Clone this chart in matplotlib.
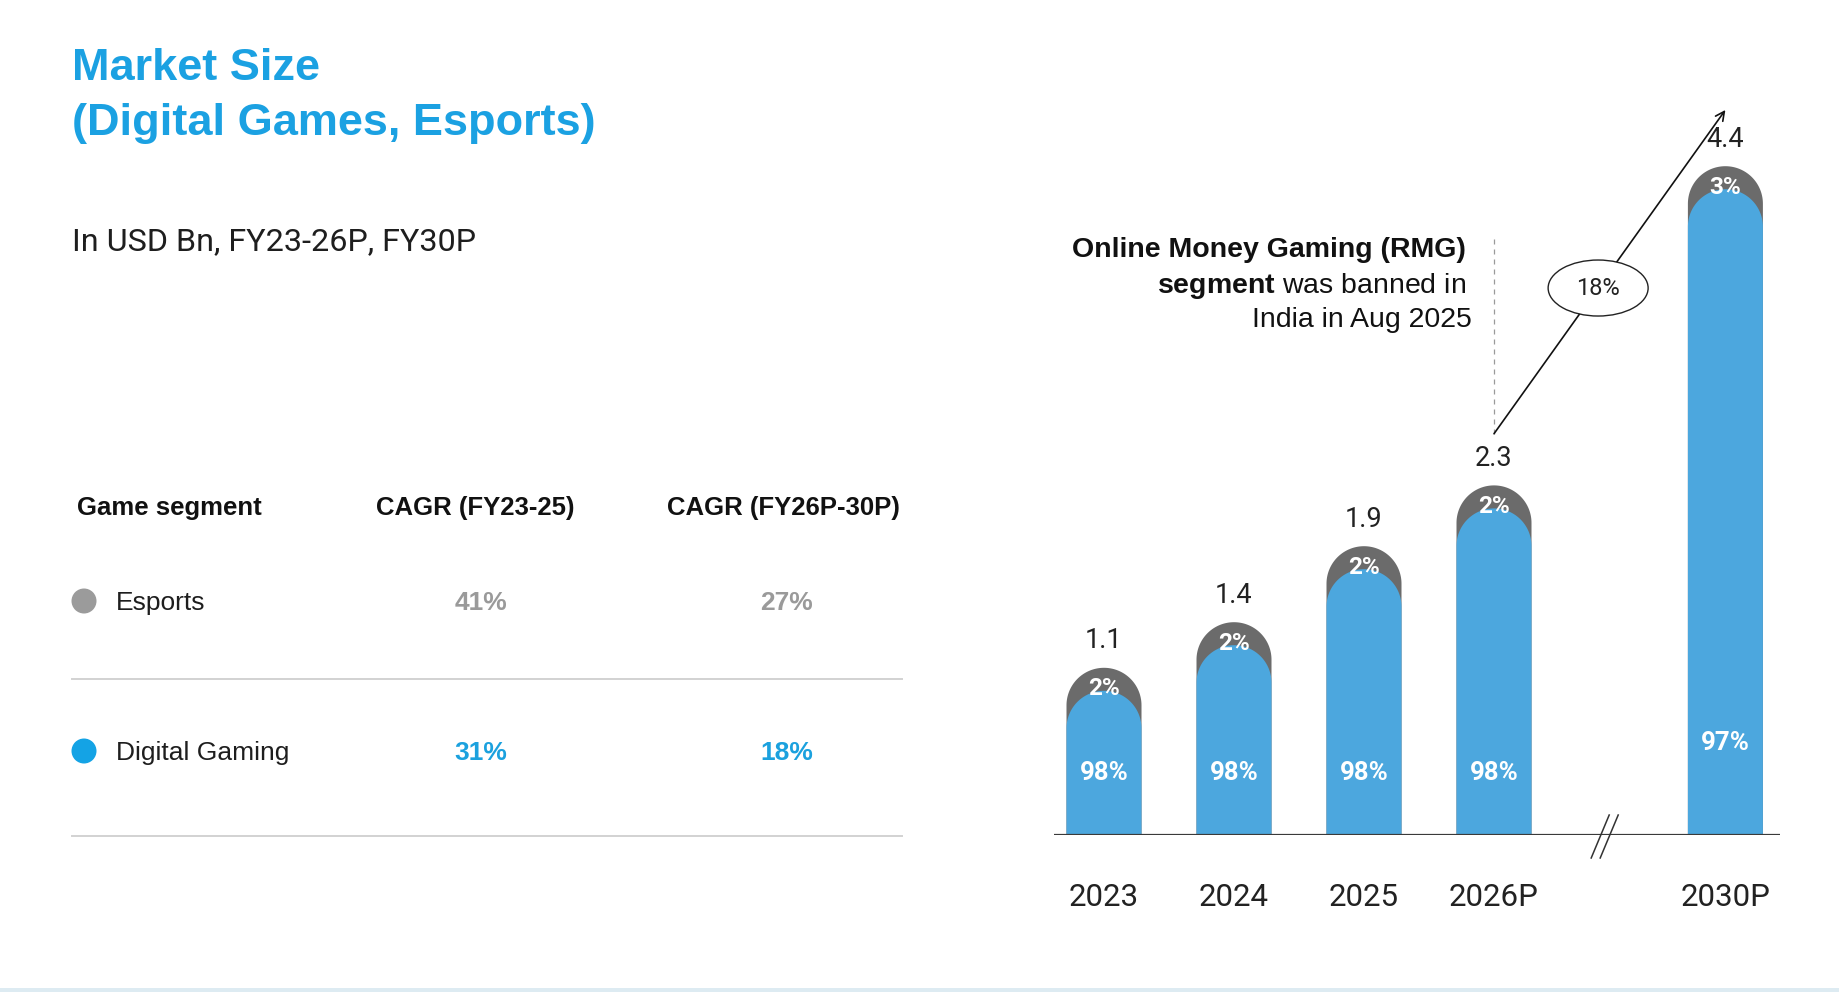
import numpy as np
import matplotlib.pyplot as plt
from matplotlib.path import Path
from matplotlib.patches import PathPatch, Ellipse, Circle

plt.rcParams['font.family'] = ['Roboto', 'DejaVu Sans']
plt.rcParams['mathtext.fontset'] = 'custom'
plt.rcParams['mathtext.rm'] = 'Liberation Sans'
plt.rcParams['mathtext.bf'] = 'Liberation Sans:bold'

# ---- data ----
years = ['2023', '2024', '2025', '2026P', '2030P']
market_size = [1.1, 1.4, 1.9, 2.3, 4.4]          # USD Bn
esports_share = ['2%', '2%', '2%', '2%', '3%']
digital_share = ['98%', '98%', '98%', '98%', '97%']
cagr_26_30_label = '18%'

segments = ['Esports', 'Digital Gaming']
cagr_fy23_25 = ['41%', '31%']
cagr_fy26_30 = ['27%', '18%']

# ---- style ----
BLUE = '#4CA7DE'
GREY_CAP = '#6B6B6B'
TITLE_BLUE = '#1BA1E2'
seg_dot = ['#9B9B9B', '#14A3E5']
seg_val = ['#9A9A9A', '#1BA1DE']
TXT = '#1E1E1E'
LEFT_FONT = ['Liberation Sans', 'DejaVu Sans']

W, H = 1840, 992
x_pos = [0, 1, 2, 3, 4.78]          # gap before 2030P for the axis break
inner_lift = [62, 62, 62, 62, 92]   # px above baseline for the share label

PX_X, PX_Y = 130.0, 152.0           # pixels per data unit
X0 = 1104                            # pixel x of first bar
left_px, right_px, base_px, top_px = 1054, 1780, 835, 40


def pt(px):
    return px * 72 / 100


def dome(xc, top, rx, ry, n=80):
    t = np.linspace(np.pi, 0, n)
    xs = np.concatenate([[xc - rx], xc + rx * np.cos(t), [xc + rx]])
    ys = np.concatenate([[0], top - ry + ry * np.sin(t), [0]])
    verts = np.column_stack([xs, ys])
    verts = np.vstack([verts, verts[:1]])
    codes = [Path.MOVETO] + [Path.LINETO] * (len(verts) - 2) + [Path.CLOSEPOLY]
    return Path(verts, codes)


fig = plt.figure(figsize=(W / 100, H / 100), dpi=100)
fig.patch.set_facecolor('white')

# ---- left panel (pixel coordinates) ----
ov = fig.add_axes([0, 0, 1, 1], zorder=0)
ov.set_xlim(0, W)
ov.set_ylim(H, 0)
ov.axis('off')

ov.text(72, 80, 'Market Size', fontsize=32.5, fontweight='bold', color=TITLE_BLUE,
        family=LEFT_FONT, va='baseline')
ov.text(72, 135, '(Digital Games, Esports)', fontsize=32.5, fontweight='bold',
        color=TITLE_BLUE, family=LEFT_FONT, va='baseline')
ov.text(72, 250, 'In USD Bn, FY23-26P, FY30P', fontsize=23.3, color=TXT, va='baseline')

col_x = [77, 475, 783]
ov.text(col_x[0], 515, 'Game segment', fontsize=18.5, fontweight='bold', color='#111',
        family=LEFT_FONT, va='baseline')
ov.text(col_x[1], 515, 'CAGR (FY23-25)', fontsize=18.5, fontweight='bold', color='#111',
        family=LEFT_FONT, va='baseline', ha='center')
ov.text(col_x[2], 515, 'CAGR (FY26P-30P)', fontsize=18.5, fontweight='bold', color='#111',
        family=LEFT_FONT, va='baseline', ha='center')

row_y = [601, 751]
for i, seg in enumerate(segments):
    y = row_y[i]
    ov.add_patch(Circle((84, y), 12.5, color=seg_dot[i], lw=0))
    ov.text(116, y + 9, seg, fontsize=19, color=TXT, family=LEFT_FONT, va='baseline')
    ov.text(col_x[1] + 6, y + 9, cagr_fy23_25[i], fontsize=19, fontweight='bold',
            color=seg_val[i], family=LEFT_FONT, va='baseline', ha='center')
    ov.text(col_x[2] + 4, y + 9, cagr_fy26_30[i], fontsize=19, fontweight='bold',
            color=seg_val[i], family=LEFT_FONT, va='baseline', ha='center')
for y in (679, 836):
    ov.plot([72, 902], [y, y], color='#D2D2D2', lw=1.4)

ov.axhspan(988, 992, color='#DDEBF2', lw=0)

# ---- bar chart ----
ax = fig.add_axes([left_px / W, (H - base_px) / H, (right_px - left_px) / W,
                   (base_px - top_px) / H], zorder=1)
ax.set_xlim((left_px - X0) / PX_X, (right_px - X0) / PX_X)
ax.set_ylim(0, (base_px - top_px) / PX_Y)
ax.axis('off')

rx = 37.5 / PX_X
ry = 37.5 / PX_Y
cap = 23 / PX_Y

for i, v in enumerate(market_size):
    x = x_pos[i]
    ax.add_patch(PathPatch(dome(x, v, rx, ry), fc=GREY_CAP, ec='none', zorder=2))
    ax.add_patch(PathPatch(dome(x, v - cap, rx, ry), fc=BLUE, ec='none', zorder=3))
    ax.annotate(f'{v:.1f}', (x, v), xytext=(0, pt(27)), textcoords='offset points',
                ha='center', va='center', fontsize=19.5, color='#222')
    ax.annotate(esports_share[i], (x, v), xytext=(0, pt(-21)), textcoords='offset points',
                ha='center', va='center', fontsize=17.5, fontweight='bold', color='white',
                zorder=6)
    ax.annotate(digital_share[i], (x, 0), xytext=(0, pt(inner_lift[i])),
                textcoords='offset points', ha='center', va='center', fontsize=18.5,
                fontweight='bold', color='white', zorder=6)
    ax.annotate(years[i], (x, 0), xytext=(0, pt(-63)), textcoords='offset points',
                ha='center', va='center', fontsize=22.5, color='#222',
                annotation_clip=False)

ax.axhline(0, color='#3A3A3A', lw=1.6, zorder=5)

# axis break marks between 2026P and 2030P
xb = (x_pos[3] + x_pos[4]) / 2 - 5 / PX_X
for dx in (-4.5, 4.5):
    ax.plot([xb + (dx - 9) / PX_X, xb + (dx + 9) / PX_X], [-23 / PX_Y, 20 / PX_Y],
            color='#333', lw=1.1, clip_on=False, zorder=6)

# RMG ban note with dashed marker
x3, v3 = x_pos[3], market_size[3]
x4, v4 = x_pos[4], market_size[4]
ax.plot([x3, x3], [v3 + 0.34, 3.92], ls=(0, (4, 4)), color='#9A9A9A', lw=0.9, zorder=4)

ax.text(2.785, 3.805, 'Online Money Gaming (RMG)', fontsize=20.5, fontweight='bold',
        color='#111', family=LEFT_FONT, ha='right', va='baseline')
ax.text(2.785, 3.568, r'$\mathbf{segment}$ was banned in', fontsize=20.5, color='#111',
        family=LEFT_FONT, ha='right', va='baseline')
ax.text(2.83, 3.34, 'India in Aug 2025', fontsize=20.5, color='#111',
        family=LEFT_FONT, ha='right', va='baseline')

# CAGR arrow from 2026P to 2030P
start = (x3, v3 + 0.34)
end = (x4, v4 + 0.37)
ax.annotate('', xy=end, xytext=start,
            arrowprops=dict(arrowstyle='->', color='#111', lw=1.2, shrinkA=0,
                            shrinkB=0, mutation_scale=16), zorder=4)
t = 0.45
cx = start[0] + t * (end[0] - start[0])
cy = start[1] + t * (end[1] - start[1])
ax.add_patch(Ellipse((cx, cy), 100 / PX_X, 56 / PX_Y, fc='white', ec='#222', lw=1,
                     zorder=5))
ax.text(cx, cy, cagr_26_30_label, fontsize=17, color='#222', ha='center', va='center',
        zorder=6)

fig.savefig('out.png', dpi=100)
